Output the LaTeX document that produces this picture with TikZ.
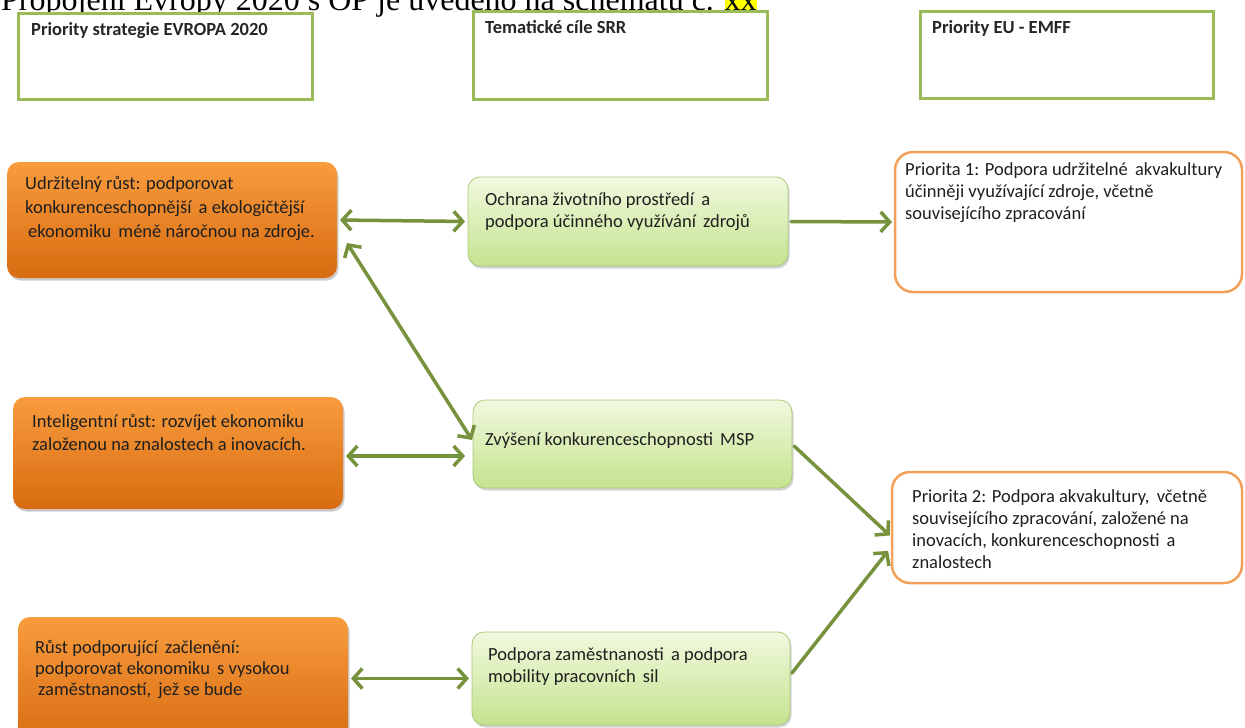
\documentclass[tikz,border=0pt]{standalone}
\usepackage{fontspec}
\setmainfont{Carlito}
\newfontfamily\titlefont{Liberation Serif}
\usetikzlibrary{arrows.meta,shadows}
\definecolor{hdrgreen}{HTML}{9BBB59}
\definecolor{arrgreen}{HTML}{76923C}
\definecolor{orTop}{HTML}{F89C3E}
\definecolor{orBot}{HTML}{D86B10}
\definecolor{grTop}{HTML}{F1F9DF}
\definecolor{grBot}{HTML}{C4E38E}
\definecolor{grLine}{HTML}{A9C97A}
\definecolor{prBorder}{HTML}{F2A05A}
\definecolor{hl}{HTML}{FFFF00}
\newcommand\dsp{\hspace{3pt} }
\begin{document}
\begin{tikzpicture}[x=1pt,y=-1pt,
  hdr/.style={draw=hdrgreen, line width=3pt, fill=white, anchor=north west, inner sep=0pt, outer sep=0pt},
  obox/.style={rounded corners=12pt, top color=orTop, bottom color=orBot, draw=none,
    drop shadow={shadow xshift=1.5pt, shadow yshift=-2.5pt, opacity=0.4},
    anchor=north west, inner sep=0pt, outer sep=0pt},
  gbox/.style={rounded corners=12pt, top color=grTop, bottom color=grBot, draw=grLine, line width=0.8pt,
    drop shadow={shadow xshift=1.5pt, shadow yshift=-2.5pt, opacity=0.35},
    anchor=north west, inner sep=0pt, outer sep=0pt},
  pbox/.style={rounded corners=18pt, draw=prBorder, line width=2.5pt, fill=white,
    anchor=north west, inner sep=0pt, outer sep=0pt},
  hdrtxt/.style={anchor=base west, inner sep=0pt, font=\bfseries\fontsize{18.5}{22}\selectfont, text=black!85},
  txt/.style={anchor=north west, inner sep=0pt, align=left, font=\fontsize{18.5}{22}\selectfont, text=black!88},
  arr/.style={draw=arrgreen, line width=3.5pt, line cap=round, line join=round,
    >={Straight Barb[length=9pt,width=20pt]}, shorten >=3pt, shorten <=3pt}
]
\useasboundingbox (0,0) rectangle (1245,728);
\clip (0,0) rectangle (1245,728);

% title (cut at the top of the picture, as in the reference)
\node[anchor=base west, inner sep=0pt, font=\titlefont\fontsize{32}{36}\selectfont] (title) at (1,10)
  {Propojení Evropy 2020 s OP je uvedeno na schématu č. {\fboxsep=0pt\colorbox{hl}{\rule[-1pt]{0pt}{28pt}xx}}};

% header boxes
\node[hdr, minimum width=294pt, minimum height=86pt] (h1) at (18,13) {};
\node[hdr, minimum width=294pt, minimum height=88pt] (h2) at (473,11) {};
\node[hdr, minimum width=293pt, minimum height=87pt] (h3) at (920,11) {};
\node[hdrtxt] (h1t) at (31,35) {Priority strategie EVROPA 2020};
\node[hdrtxt] (h2t) at (485,34) {Tematické cíle SRR};
\node[hdrtxt] (h3t) at (932,34) {Priority EU - EMFF};

% orange boxes
\node[obox, minimum width=330pt, minimum height=116pt] (o1) at (7,162) {};
\node[obox, minimum width=330pt, minimum height=112pt] (o2) at (13,397) {};
\node[obox, minimum width=330pt, minimum height=128pt] (o3) at (18,617) {};

% green boxes
\node[gbox, minimum width=320pt, minimum height=89pt] (g1) at (468,177) {};
\node[gbox, minimum width=319pt, minimum height=88pt] (g2) at (473,400) {};
\node[gbox, minimum width=318pt, minimum height=93pt] (g3) at (472,632) {};

% priority boxes
\node[pbox, minimum width=347pt, minimum height=140pt] (p1) at (895,152) {};
\node[pbox, minimum width=350pt, minimum height=111pt] (p2) at (892,472) {};

% texts
\node[txt, font=\fontsize{18.5}{24}\selectfont] (o1t) at (25,172.2)
  {\strut Udržitelný růst: podporovat\\konkurenceschopnější\dsp a ekologičtější\\\hspace{3pt}ekonomiku\dsp méně náročnou na zdroje.};
\node[txt, font=\fontsize{18.5}{23}\selectfont] (o2t) at (32,410.9)
  {\strut Inteligentní růst: rozvíjet ekonomiku\\založenou na znalostech a inovacích.};
\node[txt, font=\fontsize{18.5}{21}\selectfont] (o3t) at (35,638.3)
  {\strut Růst podporující\dsp začlenění:\\podporovat ekonomiku\dsp s vysokou\\\hspace{3pt}zaměstnaností,\dsp jež se bude};
\node[txt] (g1t) at (485,189.6)
  {\strut Ochrana životního prostředí\dsp a\\podpora účinného využívání\dsp zdrojů};
\node[txt, anchor=base west] (g2t) at (485,445) {Zvýšení konkurenceschopnosti\dsp MSP};
\node[txt] (g3t) at (488,644.6)
  {\strut Podpora zaměstnanosti\dsp a podpora\\mobility pracovních\dsp sil};
\node[txt] (p1t) at (905,159.6)
  {\strut Priorita 1: Podpora udržitelné\dsp akvakultury\\účinněji využívající zdroje, včetně\\souvisejícího zpracování};
\node[txt] (p2t) at (912,486.6)
  {\strut Priorita 2: Podpora akvakultury,\dsp včetně\\souvisejícího zpracování, založené na\\inovacích, konkurenceschopnosti\dsp a\\znalostech};

% connectors
\draw[arr, <->] (o1.east) -- (g1.west);
\draw[arr, ->] (g1.east) -- (p1.west);
\draw[arr, <->, shorten <=0pt, shorten >=0pt] ([shift={(10,-35)}]o1.south east) -- ([shift={(-1,-4)}]g2.west);
\draw[arr, <->] ([shift={(0,3)}]o2.east) -- ([shift={(-5,12)}]g2.west);
\draw[arr, ->] (g2.east) -- ([shift={(0,10)}]p2.west);
\draw[arr, ->] ([shift={(0,-3)}]g3.east) -- ([shift={(-2,21)}]p2.west);
\draw[arr, <->] (o3.east |- g3.west) -- (g3.west);
\end{tikzpicture}
\end{document}
